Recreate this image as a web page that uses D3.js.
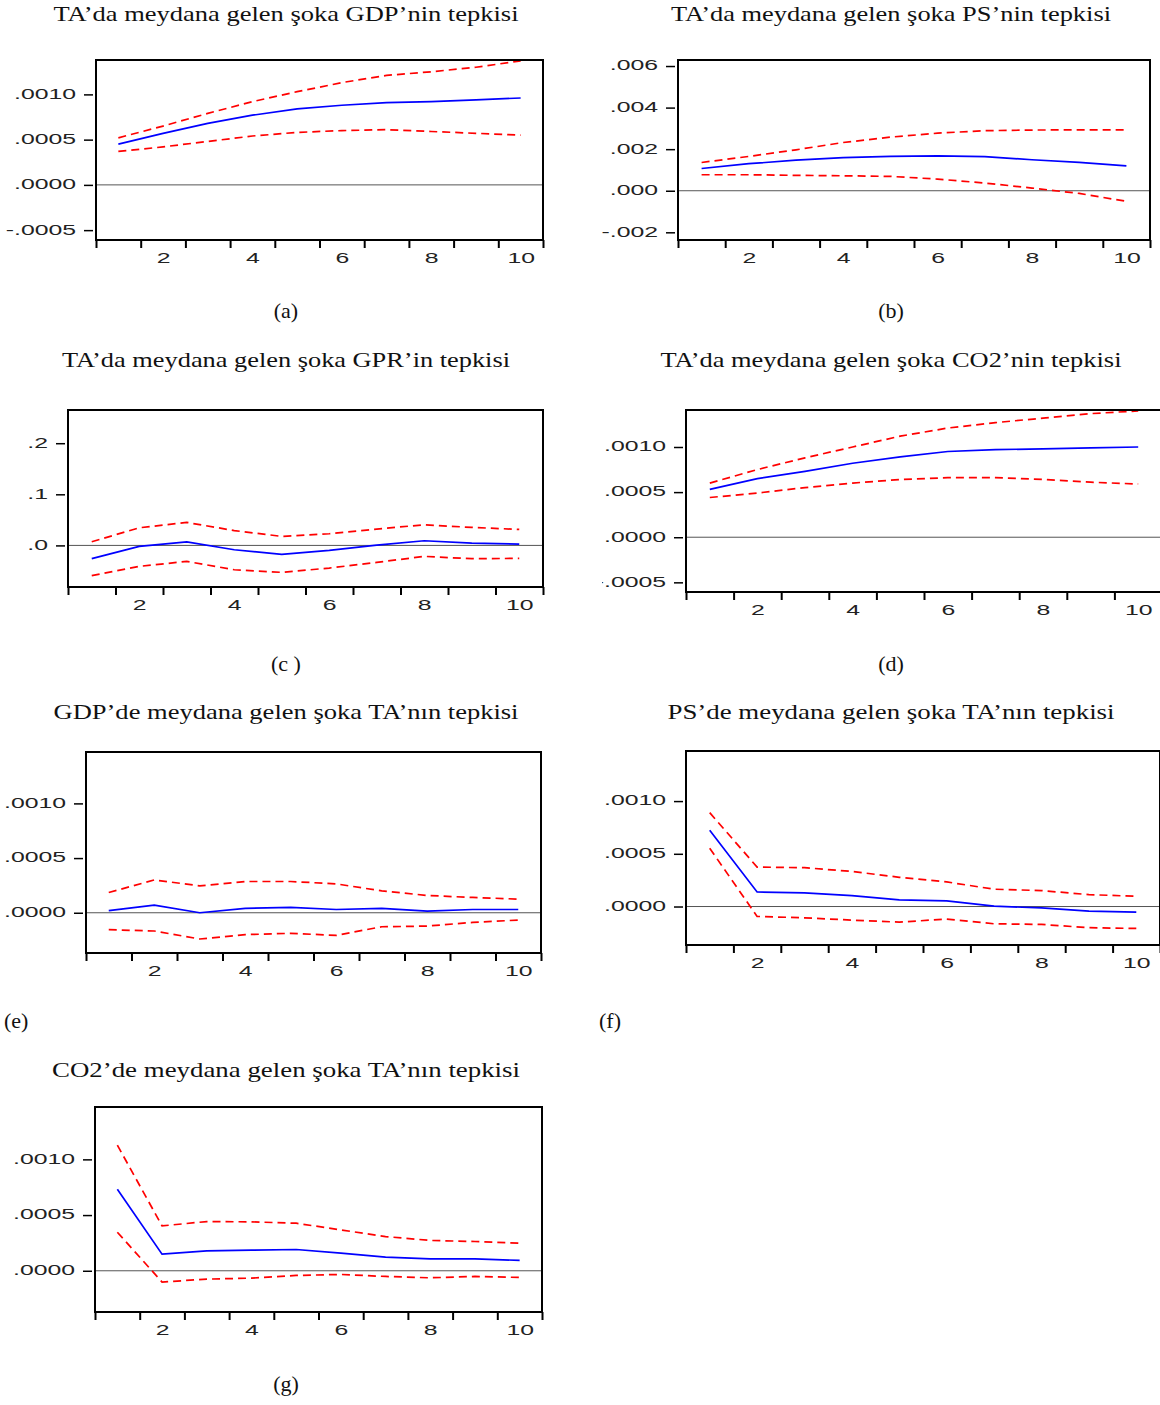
<!doctype html>
<html lang="tr">
<head>
<meta charset="utf-8">
<script src="https://cdn.jsdelivr.net/npm/d3@7/dist/d3.min.js"></script>
<style>
  body { margin:0; background:#fff }
  svg { display:block }
  .title, .caption { font-family: 'Liberation Serif', 'Times New Roman', serif; font-size: 22px; fill:#111 }
  .tick text { font-family: 'Liberation Sans', Arial, sans-serif; font-size: 15.5px; fill:#222 }
</style>
<title>Etki-tepki fonksiyonlari</title>
</head>
<body>
<script>
// periods on the x axis, labels every second one
let periods = [1, 2, 3, 4, 5, 6, 7, 8, 9, 10];
let xTickLabels = [2, 4, 6, 8, 10];

// (a) TA shock -> GDP
let gdpResp  = [0.00045, 0.00057, 0.00068, 0.00077, 0.00084, 0.00088, 0.00091, 0.00092, 0.00094, 0.00096];
let gdpUpper = [0.00052, 0.00065, 0.00079, 0.00092, 0.00103, 0.00113, 0.00121, 0.00125, 0.00130, 0.00137];
let gdpLower = [0.00037, 0.00042, 0.00048, 0.00054, 0.00058, 0.00060, 0.00061, 0.00059, 0.00057, 0.00055];

// (b) TA shock -> PS
let psResp  = [0.00107, 0.00130, 0.00147, 0.00159, 0.00165, 0.00168, 0.00164, 0.00149, 0.00136, 0.00120];
let psUpper = [0.00136, 0.00165, 0.00197, 0.00232, 0.00258, 0.00277, 0.00289, 0.00292, 0.00293, 0.00293];
let psLower = [0.00077, 0.00077, 0.00074, 0.00072, 0.00069, 0.00056, 0.00037, 0.00013, -0.00013, -0.00051];

// (c) TA shock -> GPR
let gprResp  = [-0.026, -0.002, 0.007, -0.0085, -0.0176, -0.0098, 0.0005, 0.0091, 0.0046, 0.0026];
let gprUpper = [0.0072, 0.0345, 0.045, 0.029, 0.0176, 0.0228, 0.032, 0.0404, 0.0352, 0.0313];
let gprLower = [-0.0593, -0.041, -0.0313, -0.0476, -0.0528, -0.0443, -0.0332, -0.0215, -0.026, -0.0254];

// (d) TA shock -> CO2
let co2Resp  = [0.00053, 0.00065, 0.00073, 0.00082, 0.00089, 0.00095, 0.00097, 0.00098, 0.00099, 0.00100];
let co2Upper = [0.00060, 0.00075, 0.00088, 0.00100, 0.00112, 0.00121, 0.00127, 0.00132, 0.00137, 0.00140];
let co2Lower = [0.00044, 0.00049, 0.00055, 0.00060, 0.00064, 0.00066, 0.00066, 0.00064, 0.00061, 0.00059];

// (e) GDP shock -> TA
let taGdpResp  = [0.00002, 0.00007, 0.0, 0.00004, 0.00005, 0.00003, 0.00004, 0.000015, 0.00003, 0.00003];
let taGdpUpper = [0.000185, 0.0003, 0.000246, 0.000286, 0.000286, 0.000264, 0.0002, 0.000158, 0.00014, 0.000125];
let taGdpLower = [-0.000155, -0.000167, -0.00024, -0.0002, -0.000188, -0.000207, -0.000128, -0.000122, -0.000088, -0.000067];

// (f) PS shock -> TA
let taPsResp  = [0.000723, 0.000138, 0.000129, 0.000104, 0.000063, 0.000053, 0.000003, -0.000013, -0.000044, -0.000053];
let taPsUpper = [0.00089, 0.000374, 0.000368, 0.000333, 0.000277, 0.000233, 0.000164, 0.000151, 0.000113, 0.000097];
let taPsLower = [0.000553, -0.000094, -0.000107, -0.000129, -0.000148, -0.000119, -0.000164, -0.00017, -0.000201, -0.000208];

// (g) CO2 shock -> TA
let taCo2Resp  = [0.000731, 0.000149, 0.000179, 0.000185, 0.000191, 0.000158, 0.000122, 0.000107, 0.000107, 0.000093];
let taCo2Upper = [0.001128, 0.000403, 0.000442, 0.000439, 0.000427, 0.000367, 0.000307, 0.000272, 0.000263, 0.000248];
let taCo2Lower = [0.000346, -0.000101, -0.000075, -0.000066, -0.000042, -0.000033, -0.000051, -0.000063, -0.000051, -0.00006];

// y tick values and their labels
let ticks0005 = [-0.0005, 0, 0.0005, 0.001];
let labels0005 = ["-.0005", ".0000", ".0005", ".0010"];
let ticksPs = [-0.002, 0, 0.002, 0.004, 0.006];
let labelsPs = ["-.002", ".000", ".002", ".004", ".006"];
let ticksGpr = [0, 0.1, 0.2];
let labelsGpr = [".0", ".1", ".2"];
let ticksTa = [0, 0.0005, 0.001];
let labelsTa = [".0000", ".0005", ".0010"];

// titles and captions
let titles = [
  "TA\u2019da meydana gelen şoka GDP\u2019nin tepkisi",
  "TA\u2019da meydana gelen şoka PS\u2019nin tepkisi",
  "TA\u2019da meydana gelen şoka GPR\u2019in tepkisi",
  "TA\u2019da meydana gelen şoka CO2\u2019nin tepkisi",
  "GDP\u2019de meydana gelen şoka TA\u2019nın tepkisi",
  "PS\u2019de meydana gelen şoka TA\u2019nın tepkisi",
  "CO2\u2019de meydana gelen şoka TA\u2019nın tepkisi"
];
let captions = ["(a)", "(b)", "(c )", "(d)", "(e)", "(f)", "(g)"];

// one entry per panel: data + frame geometry
let panels = [
  {resp: gdpResp, up: gdpUpper, lo: gdpLower, yDom: [-0.000609, 0.00138], yt: ticks0005, yl: labels0005,
   fx: 96, fy: 60, fw: 447, fh: 180, tx: 286, ty: 21, tw: 465, cx: 286, cy: 318, canchor: "middle"},
  {resp: psResp, up: psUpper, lo: psLower, yDom: [-0.00237, 0.00629], yt: ticksPs, yl: labelsPs,
   fx: 678, fy: 60, fw: 472, fh: 180, tx: 891, ty: 21, tw: 440, cx: 891, cy: 318, canchor: "middle"},
  {resp: gprResp, up: gprUpper, lo: gprLower, yDom: [-0.0814, 0.265], yt: ticksGpr, yl: labelsGpr,
   fx: 68, fy: 410, fw: 475, fh: 177, tx: 286, ty: 367, tw: 448, cx: 286, cy: 671, canchor: "middle"},
  {resp: co2Resp, up: co2Upper, lo: co2Lower, yDom: [-0.000607, 0.00141], yt: ticks0005, yl: labels0005,
   fx: 686, fy: 410, fw: 476, fh: 182, tx: 891, ty: 367, tw: 461, cx: 891, cy: 671, canchor: "middle", clipLabels: 602},
  {resp: taGdpResp, up: taGdpUpper, lo: taGdpLower, yDom: [-0.000368, 0.00147], yt: ticksTa, yl: labelsTa,
   fx: 86, fy: 752, fw: 455, fh: 201, tx: 286, ty: 719, tw: 465, cx: 4, cy: 1028, canchor: "start"},
  {resp: taPsResp, up: taPsUpper, lo: taPsLower, yDom: [-0.000365, 0.001475], yt: ticksTa, yl: labelsTa,
   fx: 686, fy: 751, fw: 474, fh: 194, tx: 891, ty: 719, tw: 447, cx: 599, cy: 1028, canchor: "start"},
  {resp: taCo2Resp, up: taCo2Upper, lo: taCo2Lower, yDom: [-0.00037, 0.00147], yt: ticksTa, yl: labelsTa,
   fx: 95, fy: 1107, fw: 447, fh: 205, tx: 286, ty: 1077, tw: 468, cx: 286, cy: 1391, canchor: "middle"}
];

let svg = d3.select("body").append("svg")
  .attr("width", 1160)
  .attr("height", 1405);

let defs = svg.append("defs");

panels.forEach(function(p, i) {
  let x = d3.scaleLinear().domain([0.5, 10.5]).range([p.fx, p.fx + p.fw]);
  let y = d3.scaleLinear().domain(p.yDom).range([p.fy + p.fh, p.fy]);

  let g = svg.append("g").attr("class", "panel");

  g.append("text")
    .attr("class", "title")
    .attr("x", p.tx)
    .attr("y", p.ty)
    .attr("text-anchor", "middle")
    .attr("textLength", p.tw)
    .attr("lengthAdjust", "spacingAndGlyphs")
    .text(titles[i]);

  g.append("text")
    .attr("class", "caption")
    .attr("x", p.cx)
    .attr("y", p.cy)
    .attr("text-anchor", p.canchor)
    .text(captions[i]);

  // zero line
  g.append("line")
    .attr("x1", p.fx).attr("x2", p.fx + p.fw)
    .attr("y1", y(0)).attr("y2", y(0))
    .attr("stroke", "#555")
    .attr("stroke-width", 1);

  let line = d3.line()
    .x((d, k) => x(periods[k]))
    .y(d => y(d));

  g.append("path").datum(p.up)
    .attr("d", line)
    .attr("fill", "none")
    .attr("stroke", "#ff0000")
    .attr("stroke-width", 1.7)
    .attr("stroke-dasharray", "8,5");

  g.append("path").datum(p.lo)
    .attr("d", line)
    .attr("fill", "none")
    .attr("stroke", "#ff0000")
    .attr("stroke-width", 1.7)
    .attr("stroke-dasharray", "8,5");

  g.append("path").datum(p.resp)
    .attr("d", line)
    .attr("fill", "none")
    .attr("stroke", "#0000ff")
    .attr("stroke-width", 1.7);

  // frame
  g.append("rect")
    .attr("x", p.fx).attr("y", p.fy)
    .attr("width", p.fw).attr("height", p.fh)
    .attr("fill", "none")
    .attr("stroke", "#000")
    .attr("stroke-width", 2);

  // y axis: short ticks left of the frame
  let yAxisG = g.append("g")
    .attr("transform", "translate(" + (p.fx - 3) + ",0)")
    .call(d3.axisLeft(y).tickValues(p.yt).tickFormat((d, k) => p.yl[k]).tickSize(9));
  yAxisG.attr("font-size", null).attr("font-family", null);
  yAxisG.select(".domain").remove();
  yAxisG.selectAll(".tick line").attr("stroke", "#000").attr("stroke-width", 1.5);
  yAxisG.selectAll(".tick text")
    .attr("x", null)
    .attr("dy", "0.25em")
    .attr("transform", "translate(-17,0) scale(1.6,1)");

  // panel (d): the minus of the lowest label is cut off in the source
  if (p.clipLabels) {
    defs.append("clipPath").attr("id", "clip" + i)
      .append("rect")
      .attr("x", p.clipLabels - p.fx + 3).attr("y", 0)
      .attr("width", 1160).attr("height", 1405);
    yAxisG.attr("clip-path", "url(#clip" + i + ")");
  }

  // x axis: boundary ticks below the frame
  let xTickG = g.append("g")
    .attr("transform", "translate(0," + (p.fy + p.fh) + ")")
    .call(d3.axisBottom(x).tickValues(d3.range(0.5, 10.6, 1)).tickFormat("").tickSize(8));
  xTickG.select(".domain").remove();
  xTickG.selectAll(".tick line").attr("stroke", "#000").attr("stroke-width", 2);

  let xLabG = g.append("g")
    .attr("transform", "translate(0," + (p.fy + p.fh) + ")")
    .call(d3.axisBottom(x).tickValues(xTickLabels).tickSize(0).tickPadding(12));
  xLabG.attr("font-size", null).attr("font-family", null);
  xLabG.select(".domain").remove();
  xLabG.selectAll(".tick text").attr("transform", "scale(1.6,1)");
});
</script>
</body>
</html>
